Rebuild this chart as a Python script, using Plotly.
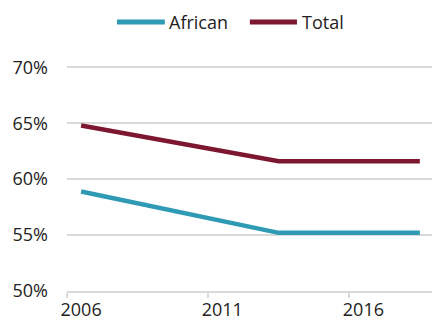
import plotly.graph_objects as go

# Share of population, by group
years = [2006, 2013, 2018]
african = [58.9, 55.2, 55.2]
total = [64.8, 61.6, 61.6]

tick_years = [2006, 2011, 2016]
tick_pct = [50, 55, 60, 65, 70]

series = [("African", african, "#2f9ab4"), ("Total", total, "#7d172f")]

fig = go.Figure()
for name, vals, color in series:
    fig.add_trace(go.Scatter(x=years, y=vals, name=name, mode="lines",
                             line=dict(color=color, width=4.5), showlegend=False))

# Legend drawn above the plot with long line keys
key_pos = [(0.137, 0.268, 0.273), (0.501, 0.630, 0.638)]
for (name, _, color), (x0, x1, xt) in zip(series, key_pos):
    fig.add_shape(type="line", xref="paper", yref="paper", x0=x0, x1=x1, y0=1.185, y1=1.185,
                  line=dict(color=color, width=5))
    fig.add_annotation(xref="paper", yref="paper", x=xt, y=1.185, text=name,
                       showarrow=False, xanchor="left", yanchor="middle",
                       font=dict(size=18, color="#222222"))

fig.update_layout(
    width=432, height=325,
    margin=dict(l=67, r=0, t=64, b=34),
    paper_bgcolor="white", plot_bgcolor="white",
    font=dict(family="Open Sans", size=18, color="#222222"),
    showlegend=False,
    xaxis=dict(range=[2005.5, 2018.43], tickvals=tick_years,
               ticktext=[str(t) for t in tick_years],
               showgrid=False, zeroline=False, showline=True, linecolor="#d9d9d9",
               linewidth=1.5, ticks="", ticklabelstandoff=2,
               minor=dict(tickvals=[t - 0.5 for t in tick_years], ticks="outside",
                          ticklen=5, tickcolor="#d9d9d9", tickwidth=1.5, showgrid=False)),
    yaxis=dict(range=[50, 70.3], tickvals=tick_pct, ticktext=[f"{v}%" for v in tick_pct],
               showgrid=True, gridcolor="#d9d9d9", gridwidth=1.5, zeroline=False,
               showline=False, ticks="", ticklabelstandoff=18),
)

fig.write_html("out.html")
